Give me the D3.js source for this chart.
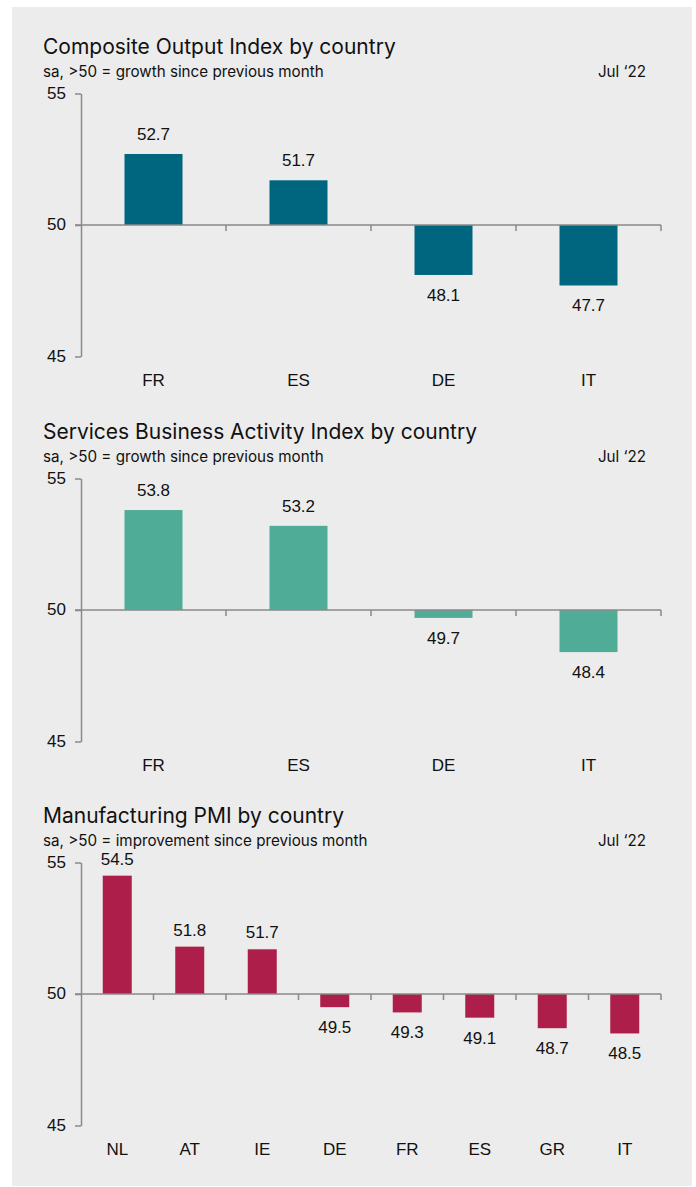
<!DOCTYPE html>
<html><head><meta charset="utf-8">
<script src="https://cdn.jsdelivr.net/npm/d3@7"></script>
<style>
html,body{margin:0;padding:0;background:#fff;}
svg{display:block;}
</style></head>
<body>
<script>
const titles = ["Composite Output Index by country","Services Business Activity Index by country","Manufacturing PMI by country"];
const subtitles = ["sa, >50 = growth since previous month","sa, >50 = growth since previous month","sa, >50 = improvement since previous month"];
const period = "Jul \u201822";
const compositeCountries = ["FR","ES","DE","IT"];
const compositeValues = [52.7,51.7,48.1,47.7];
const servicesCountries = ["FR","ES","DE","IT"];
const servicesValues = [53.8,53.2,49.7,48.4];
const manufacturingCountries = ["NL","AT","IE","DE","FR","ES","GR","IT"];
const manufacturingValues = [54.5,51.8,51.7,49.5,49.3,49.1,48.7,48.5];
const yTicks = [45,50,55];
const colors = ["#00657f","#4fac96","#ad1f4a"];

const W=696,H=1187;
const svg=d3.select("body").append("svg").attr("width",W).attr("height",H);
svg.append("rect").attr("x",12).attr("y",7).attr("width",680).attr("height",1179).attr("fill","#ececec");

const panels=[
 {cats:compositeCountries,vals:compositeValues,off:0,up:14},
 {cats:servicesCountries,vals:servicesValues,off:385,up:14},
 {cats:manufacturingCountries,vals:manufacturingValues,off:769,up:11}
];
const titleFont="Inter, Roboto, 'Liberation Sans', sans-serif";
const labFont="'Liberation Sans', Arial, sans-serif";

panels.forEach((p,i)=>{
  const g=svg.append("g").attr("transform",`translate(0,${p.off})`);
  const y=d3.scaleLinear().domain([45,55]).range([356.5,93.5]);
  const x=d3.scaleBand().domain(p.cats).range([81,661]).paddingInner(0.6).paddingOuter(0.3);
  const step=x.step();
  g.append("text").attr("x",43).attr("y",54).attr("font-family",titleFont).attr("font-size",21).attr("fill","#111").text(titles[i]);
  g.append("text").attr("x",43).attr("y",77).attr("font-family",titleFont).attr("font-size",15.2).attr("fill","#111").text(subtitles[i]);
  g.append("text").attr("x",646).attr("y",77).attr("text-anchor","end").attr("font-family",titleFont).attr("font-size",15.2).attr("fill","#111").text(period);

  // y axis
  const ya=g.append("g").attr("transform","translate(81,0)")
    .call(d3.axisLeft(y).tickValues(yTicks).tickSize(6).tickSizeOuter(0).tickPadding(9));
  ya.select(".domain").attr("stroke","#8a8a8a").attr("stroke-width",1.5);
  ya.selectAll(".tick line").attr("stroke","#8a8a8a").attr("stroke-width",1.5);
  ya.selectAll(".tick text").attr("font-family",labFont).attr("font-size",17).attr("fill","#111").attr("dy","0.35em").attr("y",-1);

  // bars
  const y0=y(50);
  g.selectAll("rect.bar").data(p.vals).join("rect").attr("class","bar")
    .attr("x",(d,j)=>x(p.cats[j]))
    .attr("width",x.bandwidth())
    .attr("y",d=>Math.min(y(d),y0))
    .attr("height",d=>Math.abs(y(d)-y0))
    .attr("fill",colors[i]);

  // zero line with boundary ticks
  g.append("line").attr("x1",75).attr("x2",661).attr("y1",y0).attr("y2",y0).attr("stroke","#8a8a8a").attr("stroke-width",1.5);
  d3.range(1,p.cats.length+1).forEach(k=>{
    const xx=81+k*step;
    g.append("line").attr("x1",xx).attr("x2",xx).attr("y1",y0).attr("y2",y0+6).attr("stroke","#8a8a8a").attr("stroke-width",1.5);
  });

  // value labels
  g.selectAll("text.val").data(p.vals).join("text").attr("class","val")
    .attr("x",(d,j)=>x(p.cats[j])+x.bandwidth()/2)
    .attr("y",d=>d>=50? y(d)-p.up : y(d)+26)
    .attr("text-anchor","middle").attr("font-family",labFont).attr("font-size",17).attr("fill","#111")
    .text(d=>d.toFixed(1));

  // x labels
  g.selectAll("text.cat").data(p.cats).join("text").attr("class","cat")
    .attr("x",d=>x(d)+x.bandwidth()/2).attr("y",386)
    .attr("text-anchor","middle").attr("font-family",labFont).attr("font-size",17).attr("fill","#111")
    .text(d=>d);
});
</script>
</body></html>
